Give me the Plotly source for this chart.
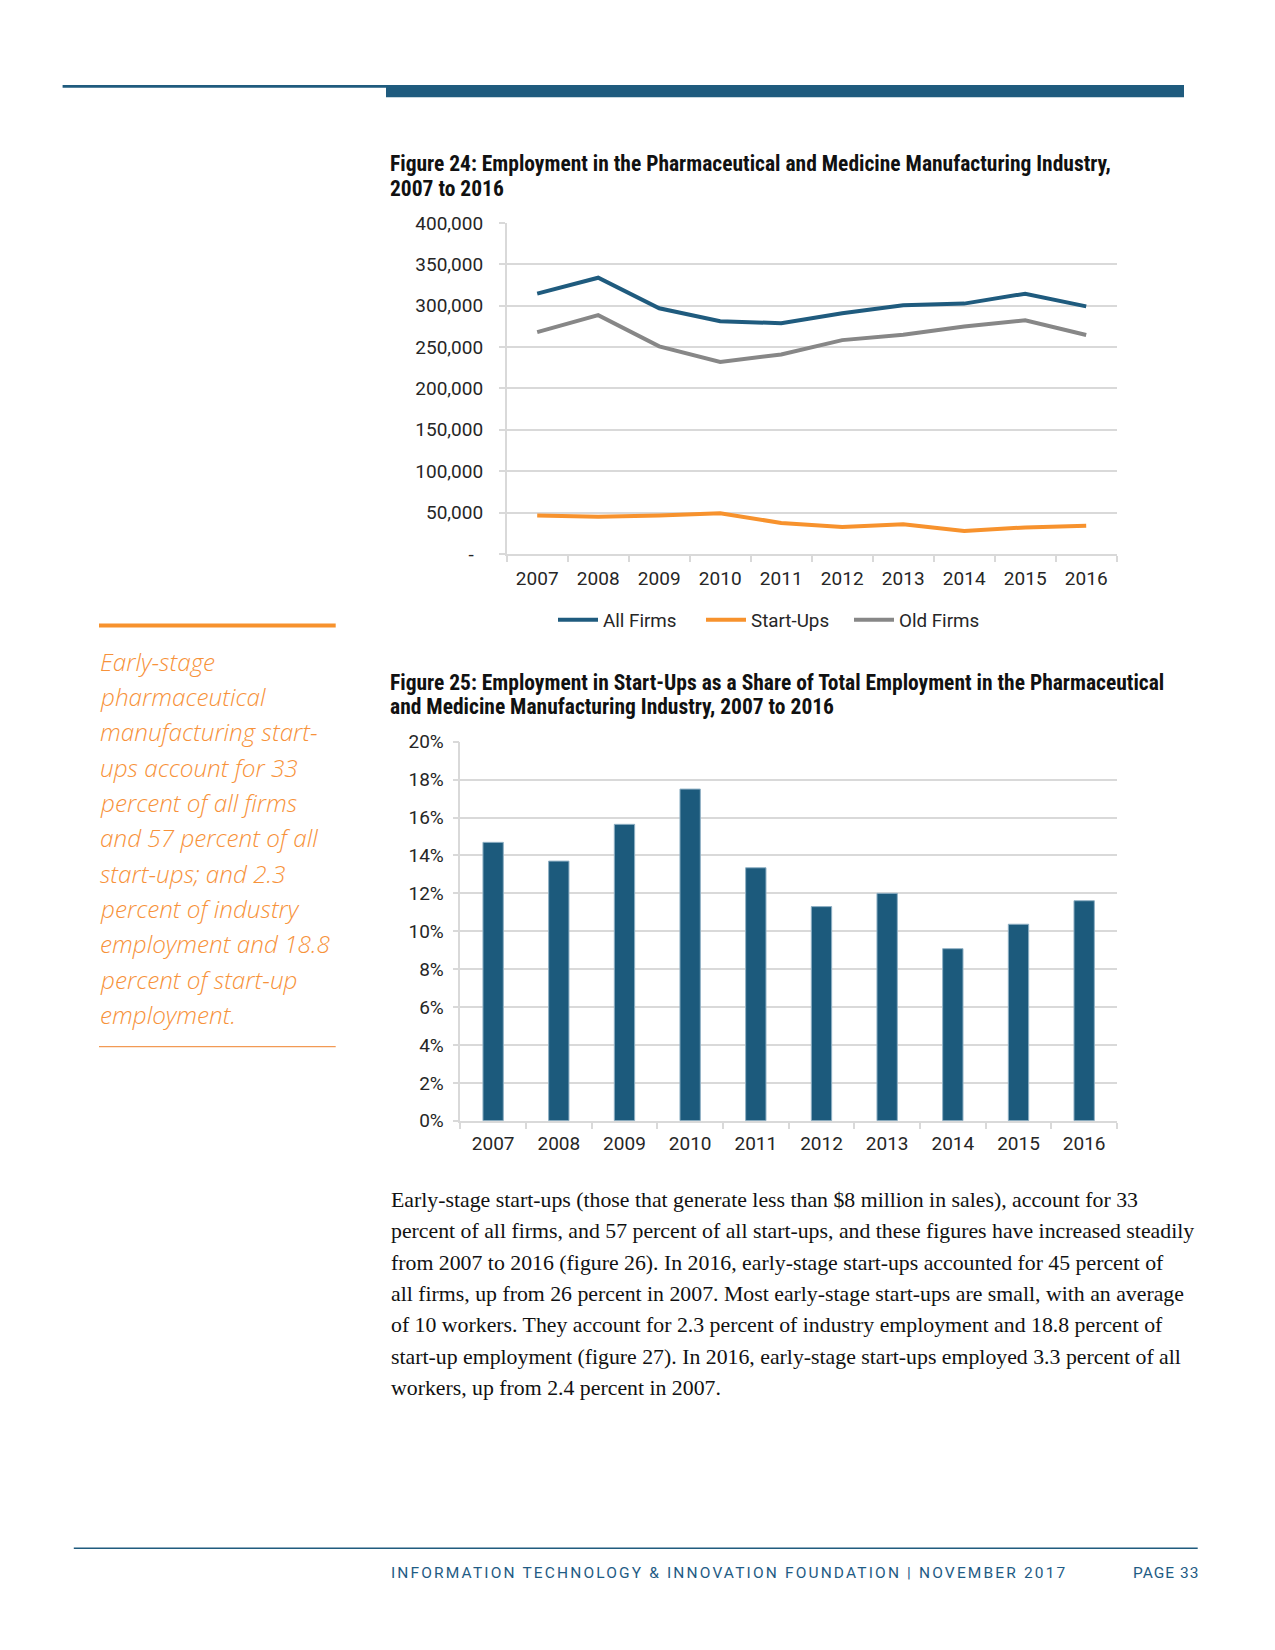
import plotly.graph_objects as go

# ---------------- data ----------------
years = ["2007", "2008", "2009", "2010", "2011", "2012", "2013", "2014", "2015", "2016"]
all_firms = [314500, 333800, 296900, 281200, 278800, 290900, 300500, 302500, 314500, 299200]
start_ups = [46500, 45000, 46400, 49300, 37500, 32700, 36000, 27700, 32100, 34000]
old_firms = [268000, 288500, 250800, 231900, 241100, 258400, 264800, 274800, 282400, 264600]
startup_share = [0.1469, 0.1370, 0.1564, 0.1750, 0.1335, 0.1130, 0.1200, 0.0908, 0.1037, 0.1161]

y1_tickvals = [0, 50000, 100000, 150000, 200000, 250000, 300000, 350000, 400000]
y1_ticktext = ["-", "50,000", "100,000", "150,000", "200,000", "250,000", "300,000", "350,000", "400,000"]
y2_tickvals = [0, 0.02, 0.04, 0.06, 0.08, 0.10, 0.12, 0.14, 0.16, 0.18, 0.20]

title1_lines = ["Figure 24: Employment in the Pharmaceutical and Medicine Manufacturing Industry,",
                "2007 to 2016"]
title2_lines = ["Figure 25: Employment in Start-Ups as a Share of Total Employment in the Pharmaceutical",
                "and Medicine Manufacturing Industry, 2007 to 2016"]
sidebar_lines = ["Early-stage", "pharmaceutical", "manufacturing start-", "ups account for 33",
                 "percent of all firms", "and 57 percent of all", "start-ups; and 2.3",
                 "percent of industry", "employment and 18.8", "percent of start-up", "employment."]
body_lines = [
    "Early-stage start-ups (those that generate less than $8 million in sales), account for 33",
    "percent of all firms, and 57 percent of all start-ups, and these figures have increased steadily",
    "from 2007 to 2016 (figure 26). In 2016, early-stage start-ups accounted for 45 percent of",
    "all firms, up from 26 percent in 2007. Most early-stage start-ups are small, with an average",
    "of 10 workers. They account for 2.3 percent of industry employment and 18.8 percent of",
    "start-up employment (figure 27). In 2016, early-stage start-ups employed 3.3 percent of all",
    "workers, up from 2.4 percent in 2007.",
]
footer_text = "INFORMATION TECHNOLOGY &amp; INNOVATION FOUNDATION | NOVEMBER 2017"
page_text = "PAGE 33"

# ---------------- styling ----------------
W, H = 1275, 1650
BLUE = "#1f5b7e"
ORANGE = "#f7922d"
GRAY = "#878787"
GRID = "#d9d9d9"
TICK = "#262626"
SANS = "Roboto, 'Open Sans', sans-serif"
NARROW = "'Liberation Sans Narrow', 'Arial Narrow', 'Roboto Condensed', Roboto, sans-serif"
SERIF = "'Liberation Serif', 'DejaVu Serif', serif"
SIDE = "'Open Sans', Roboto, sans-serif"


def px(x):
    return x / W


def py(y):
    return 1 - y / H


fig = go.Figure()

# Figure 24 lines
fig.add_trace(go.Scatter(x=years, y=all_firms, name="All Firms", mode="lines",
                         line=dict(color=BLUE, width=4), xaxis="x", yaxis="y"))
fig.add_trace(go.Scatter(x=years, y=start_ups, name="Start-Ups", mode="lines",
                         line=dict(color=ORANGE, width=4), xaxis="x", yaxis="y"))
fig.add_trace(go.Scatter(x=years, y=old_firms, name="Old Firms", mode="lines",
                         line=dict(color=GRAY, width=4), xaxis="x", yaxis="y"))

# Figure 25 bars
fig.add_trace(go.Bar(x=years, y=startup_share, name="Share", showlegend=False,
                     marker=dict(color="#1c5a7c", line=dict(color="#8fb0c4", width=1)),
                     xaxis="x2", yaxis="y2"))

axis_common = dict(showline=True, linecolor=GRID, linewidth=1.5, ticks="outside",
                   tickcolor=GRID, ticklen=6, tickwidth=1.5, zeroline=False)

y1_text = [t + "\u00a0\u00a0" if t == "-" else t for t in y1_ticktext]
n = len(years)

fig.update_layout(
    width=W, height=H,
    margin=dict(l=0, r=0, t=0, b=0, autoexpand=False),
    paper_bgcolor="white", plot_bgcolor="white",
    font=dict(family=SANS, color=TICK, size=18),
    bargap=0.69,
    xaxis=dict(domain=[px(506.7), px(1116.7)], anchor="y", type="category",
               range=[-0.5, n - 0.5], tickson="boundaries", showgrid=False,
               tickfont=dict(size=19, color=TICK), ticklabelstandoff=6, **axis_common),
    yaxis=dict(domain=[py(554), py(222.9)], anchor="x", range=[0, 400000],
               tickvals=y1_tickvals, ticktext=y1_text, showgrid=True, gridcolor=GRID,
               gridwidth=1.5, tickfont=dict(size=19, color=TICK), ticklabelstandoff=12,
               **axis_common),
    xaxis2=dict(domain=[px(460.3), px(1117)], anchor="y2", type="category",
                range=[-0.5, n - 0.5], tickson="boundaries", showgrid=False,
                tickfont=dict(size=19, color=TICK), ticklabelstandoff=5, **axis_common),
    yaxis2=dict(domain=[py(1120.8), py(741.7)], anchor="x2", range=[0, 0.2],
                tickvals=y2_tickvals, tickformat=".0%", showgrid=True, gridcolor=GRID,
                gridwidth=1.5, tickfont=dict(size=19, color=TICK), ticklabelstandoff=5,
                **axis_common),
    legend=dict(orientation="h", x=px(775), xanchor="center", y=py(620), yanchor="middle",
                font=dict(size=18.8, color=TICK), bgcolor="rgba(0,0,0,0)",
                itemwidth=40, entrywidth=93, tracegroupgap=0),
)

shapes = [
    # header rules
    dict(type="rect", xref="paper", yref="paper", x0=px(62.6), x1=px(386), y0=py(87.7), y1=py(85),
         fillcolor=BLUE, line=dict(width=0)),
    dict(type="rect", xref="paper", yref="paper", x0=px(386), x1=px(1184), y0=py(97.3), y1=py(85),
         fillcolor=BLUE, line=dict(width=0)),
    # sidebar rules
    dict(type="rect", xref="paper", yref="paper", x0=px(99), x1=px(335.7), y0=py(627.5), y1=py(623.5),
         fillcolor="#f7922d", line=dict(width=0)),
    dict(type="line", xref="paper", yref="paper", x0=px(99), x1=px(335.7), y0=py(1046.7), y1=py(1046.7),
         line=dict(color="#f29a55", width=1.2)),
    # footer rule
    dict(type="line", xref="paper", yref="paper", x0=px(73.8), x1=px(1197.7), y0=py(1548.3), y1=py(1548.3),
         line=dict(color=BLUE, width=1.5)),
]

annotations = []


def add_text(text, x, y, font, xanchor="left"):
    annotations.append(dict(text=text, x=px(x), y=py(y), xref="paper", yref="paper",
                            xanchor=xanchor, yanchor="middle", showarrow=False, font=font,
                            align="left"))


title_font = dict(family=NARROW, size=21.5, color="#111111", weight=700)
for i, t in enumerate(title1_lines):
    add_text(t, 388, 164 + 25 * i, title_font)
for i, t in enumerate(title2_lines):
    add_text(t, 388, 682 + 24.5 * i, title_font)

side_font = dict(family=SIDE, size=24.3, color="#f7923a", style="italic", weight=300)
for i, t in enumerate(sidebar_lines):
    add_text(t, 98, 661 + 35.35 * i, side_font)

body_font = dict(family=SERIF, size=21.8, color="#111111")
for i, t in enumerate(body_lines):
    add_text(t, 389, 1200 + 31.3 * i, body_font)

add_text('<span style="letter-spacing:2.15px">' + footer_text + '</span>', 389, 1573,
         dict(family=SANS, size=15.5, color="#1f5c85"))
add_text('<span style="letter-spacing:1px">' + page_text + '</span>', 1201, 1573,
         dict(family=SANS, size=15.5, color="#1f5c85"), xanchor="right")

fig.update_layout(shapes=shapes, annotations=annotations)

fig.write_html("out.html", config={"displayModeBar": False},
               post_script="document.documentElement.style.margin='0';"
                           "document.body.style.margin='0';document.body.style.padding='0';")
